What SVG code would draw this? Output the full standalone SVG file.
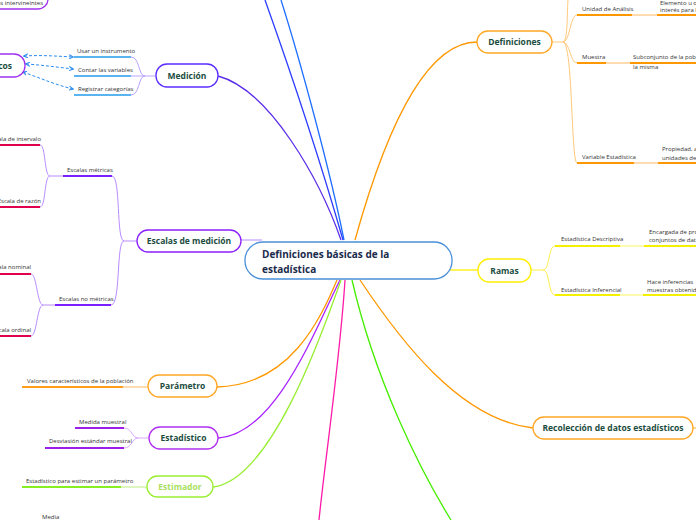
<svg xmlns="http://www.w3.org/2000/svg" width="696" height="520" viewBox="0 0 696 520">
<defs>
<marker id="ah" viewBox="0 0 10 10" refX="8" refY="5" markerWidth="5" markerHeight="5" orient="auto-start-reverse"><path d="M0,1 L9,5 L0,9" fill="none" stroke="#2a8cf0" stroke-width="2"/></marker>
<style>
text{font-family:"Open Sans","Noto Sans","Liberation Sans",sans-serif}
.lbl{font-size:6px;fill:#333}
.nt{font-size:8.5px;font-weight:bold;fill:#1b4d3e;text-anchor:middle}
.node{fill:#fff;stroke-width:1.3}
.c{fill:none;stroke-width:1.3}
.ul{fill:none;stroke-width:2}
.thin{fill:none;stroke-width:1}
</style>
</defs>
<rect width="696" height="520" fill="#fff"/>
<g id="connectors">
<path class="c" stroke="#1e6fff" d="M344,240 C330,170 300,60 281,0"/>
<path class="c" stroke="#2b3cff" d="M343,240 C320,160 290,70 265,0"/>
<path class="c" stroke="#5a2ee8" d="M218,76 C270,90 320,180 341,240"/>
<path class="c" stroke="#ff9800" d="M355,240 C380,150 420,42 477,42"/>
<path class="c" stroke="#c9a6ff" d="M241,240 H262"/>
<path class="c" stroke="#ffee00" d="M450,270 C460,270 468,270 478,270"/>
<path class="c" stroke="#ff9800" d="M337,280 C320,320 290,385 217,387"/>
<path class="c" stroke="#aa22ff" d="M340,280 C315,330 275,435 218,438"/>
<path class="c" stroke="#99ee33" d="M341,280 C320,340 270,480 213,487"/>
<path class="c" stroke="#ff1aa8" d="M345,280 C340,360 325,460 319,520"/>
<path class="c" stroke="#44ee00" d="M352,280 C375,380 420,470 451,520"/>
<path class="c" stroke="#ff9800" d="M360,280 C400,340 460,420 533,428"/>
<path class="c" stroke="#ffc060" d="M693,428 H696"/>
<path class="thin" stroke="#b9a3ff" d="M156,76 H145 C138,76 140,57 131,57 M145,76 H131 M145,76 C138,76 140,95 131,95"/>
<path class="ul" stroke="#5ab4f0" d="M74,57 H131 M74,76 H131 M74,95 H131"/>
<path class="thin" stroke="#2a8cf0" stroke-dasharray="3,2" marker-start="url(#ah)" marker-end="url(#ah)" d="M24,56 C40,55 55,56 73,57"/>
<path class="thin" stroke="#2a8cf0" stroke-dasharray="3,2" marker-start="url(#ah)" marker-end="url(#ah)" d="M26,64 C42,65 56,67 73,69"/>
<path class="thin" stroke="#2a8cf0" stroke-dasharray="3,2" marker-start="url(#ah)" marker-end="url(#ah)" d="M23,72 C40,78 56,85 73,89"/>
<path class="thin" stroke="#b98cff" d="M137,241 H124 C116,241 121,176 112,176 M124,241 C116,241 121,305 111,305"/>
<path class="ul" stroke="#7a1fff" d="M63,176 H112 M55,305 H111"/>
<path class="thin" stroke="#b98cff" d="M63,176 H50 C44,176 46,145 40,145 M50,176 C44,176 46,207 40,207"/>
<path class="thin" stroke="#b98cff" d="M55,305 H43 C37,305 37,274 31,274 M43,305 C37,305 37,336 31,336"/>
<path class="ul" stroke="#e0004e" d="M0,145 H40 M0,207 H40 M0,274 H31 M0,336 H31"/>
<path class="ul" stroke="#ff9f1a" d="M22,387 H123"/>
<path class="ul" stroke="#ffdcb0" d="M123,387 H148"/>
<path class="thin" stroke="#d9a6ff" d="M149,438 H138 C132,438 132,428 124,428 M138,438 C132,438 132,448 124,448"/>
<path class="ul" stroke="#9b1fe8" d="M75,428 H124 M45,448 H124"/>
<path class="ul" stroke="#88ee22" d="M22,487 H121"/>
<path class="ul" stroke="#ddf6bf" d="M121,487 H147"/>
<path class="thin" stroke="#ffc97a" d="M552,42 H563 C570,42 570,15 577,15 M563,42 C570,42 570,63 577,63 M563,42 C573,42 571,163 577,163 M563,42 C568,42 567,10 568,0"/>
<path class="ul" stroke="#ff9800" d="M577,15 H632 M577,63 H606 M577,163 H634"/>
<path class="ul" stroke="#ffdcb0" d="M632,15 H657 M606,63 H630 M634,163 H658"/>
<path class="ul" stroke="#ff9800" d="M657,15 H696 M630,63 H696 M658,163 H696"/>
<path class="thin" stroke="#ffee44" d="M531,270 H543 C550,270 548,246 555,246 M543,270 C550,270 548,295 555,295"/>
<path class="ul" stroke="#f5f000" d="M555,246 H620 M555,295 H620 M644,246 H696 M643,295 H696"/>
<path class="ul" stroke="#fdfbb0" d="M620,246 H644 M620,295 H643"/>
</g>
<g id="central">
<rect class="node" x="245" y="242" width="207" height="37" rx="18" stroke="#4a90d9"/>
<text x="262" y="258" font-size="10" font-weight="bold" fill="#1a2b4c">Definiciones básicas de la</text>
<text x="262" y="273" font-size="10" font-weight="bold" fill="#1a2b4c">estadística</text>
</g>
<g id="intervinientes">
<rect class="node" x="-60" y="-15" width="108" height="24" rx="10" stroke="#a030f0"/>
<text class="lbl" x="43" y="5" text-anchor="end">Variables intervineintes</text>
</g>
<g id="datos">
<rect class="node" x="-60" y="54" width="85" height="23" rx="11" stroke="#a030f0"/>
<text class="nt" x="12" y="69" style="text-anchor:end">Datos estadísticos</text>
</g>
<g id="medicion">
<rect class="node" x="156" y="64" width="62" height="23" rx="11" stroke="#5b2cff"/>
<text class="nt" x="187" y="78.5">Medición</text>
<text class="lbl" x="77" y="53">Usar un instrumento</text>
<text class="lbl" x="78" y="72">Contar las variables</text>
<text class="lbl" x="78" y="91">Registrar categorías</text>
</g>
<g id="escalas">
<rect class="node" x="137" y="230" width="104" height="22" rx="11" stroke="#8a1fff"/>
<text class="nt" x="189" y="244">Escalas de medición</text>
<text class="lbl" x="67" y="172">Escalas métricas</text>
<text class="lbl" x="59" y="301">Escalas no métricas</text>
<text class="lbl" x="41" y="141" text-anchor="end">Escala de intervalo</text>
<text class="lbl" x="41" y="203" text-anchor="end">Escala de razón</text>
<text class="lbl" x="31" y="269" text-anchor="end">Escala nominal</text>
<text class="lbl" x="31" y="332" text-anchor="end">Escala ordinal</text>
</g>
<g id="parametro">
<rect class="node" x="148" y="375" width="69" height="22" rx="11" stroke="#ffa726"/>
<text class="nt" x="182.5" y="389">Parámetro</text>
<text class="lbl" x="27" y="383">Valores característicos de la población</text>
</g>
<g id="estadistico">
<rect class="node" x="149" y="427" width="69" height="22" rx="11" stroke="#b030f0"/>
<text class="nt" x="183.5" y="441">Estadístico</text>
<text class="lbl" x="79" y="424">Medida muestral</text>
<text class="lbl" x="49" y="443">Desviasión estándar muestral</text>
</g>
<g id="estimador">
<rect class="node" x="147" y="476" width="66" height="21" rx="10.5" stroke="#99ee33"/>
<text class="nt" x="180" y="489.5" style="fill:#a8e060">Estimador</text>
<text class="lbl" x="26" y="483">Estadístico para estimar un parámetro</text>
<text class="lbl" x="42" y="519">Media</text>
</g>
<g id="definiciones">
<rect class="node" x="477" y="31" width="75" height="22" rx="11" stroke="#ffa726"/>
<text class="nt" x="514.5" y="45">Definiciones</text>
<text class="lbl" x="582" y="11">Unidad de Análisis</text>
<text class="lbl" x="660" y="5">Elemento u objeto de</text>
<text class="lbl" x="660" y="12">interés para la</text>
<text class="lbl" x="582" y="59">Muestra</text>
<text class="lbl" x="633" y="59">Subconjunto de la población</text>
<text class="lbl" x="633" y="69">la misma</text>
<text class="lbl" x="582" y="159">Variable Estadística</text>
<text class="lbl" x="662" y="151">Propiedad, atributo</text>
<text class="lbl" x="662" y="160">unidades de análisis</text>
</g>
<g id="ramas">
<rect class="node" x="478" y="259" width="53" height="23" rx="11" stroke="#ffee00"/>
<text class="nt" x="504.5" y="273.5">Ramas</text>
<text class="lbl" x="561" y="241">Estadística Descriptiva</text>
<text class="lbl" x="649" y="234">Encargada de procesar</text>
<text class="lbl" x="649" y="242">conjuntos de datos</text>
<text class="lbl" x="561" y="292">Estadística Inferencial</text>
<text class="lbl" x="647" y="284">Hace inferencias</text>
<text class="lbl" x="647" y="292">muestras obtenidas</text>
</g>
<g id="recoleccion">
<rect class="node" x="533" y="417" width="160" height="22" rx="11" stroke="#ffa726"/>
<text class="nt" x="613" y="431">Recolección de datos estadísticos</text>
</g>
</svg>
